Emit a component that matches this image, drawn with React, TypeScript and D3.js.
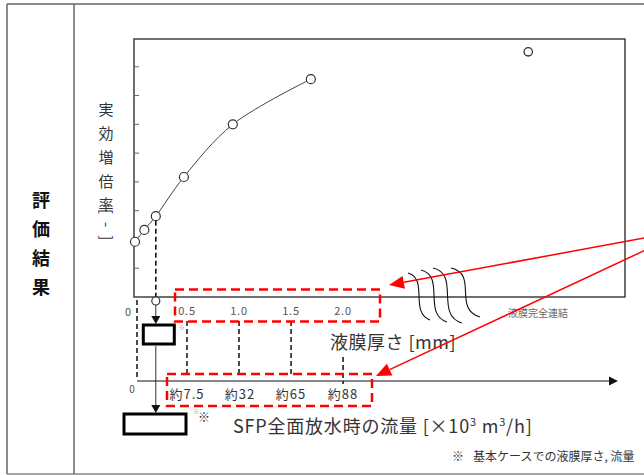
import React from "react";
import * as d3 from "d3";

// ---- data ----
const thicknessMm = [0, 0.09, 0.2, 0.47, 0.94, 1.69];
const effMultiplication = [1.92, 2.33, 2.81, 4.17, 6.0, 7.57];
const fullConnThickness = [3.78];
const fullConnValue = [8.52];
const yTickValues = [1, 2, 3, 4, 5, 6, 7, 8];
const thicknessTicks = [0.5, 1.0, 1.5, 2.0];
const thicknessTickLabels = ["0.5", "1.0", "1.5", "2.0"];
const flowLabels = ["約7.5", "約32", "約65", "約88"];
const baseCaseThickness = 0.2;
const rowTitle = ["評", "価", "結", "果"];
const yLabelChars = ["実", "効", "増", "倍", "率"];

const W = 644, H = 475;
const FONT = "'Noto Sans CJK JP', 'Noto Sans', sans-serif";

export default function App() {
  const x = d3.scaleLinear().domain([0, 4.71]).range([135, 625]);
  const y = d3.scaleLinear().domain([0, 9]).range([297, 38]);
  const pts: [number, number][] = thicknessMm.map((t, i) => [x(t), y(effMultiplication[i])]);
  const line = d3.line().curve(d3.curveCatmullRom.alpha(0.5))(pts) || "";
  const bx = x(baseCaseThickness);

  const waves = [
    [408, 273, 430, 320],
    [421, 270, 447, 322],
    [433, 268, 462, 323],
    [451, 268, 480, 317],
  ];
  const wavePath = (w: number[]) => {
    const [x0, y0, x1, y1] = w;
    const dx = x1 - x0;
    return `M${x0},${y0} C${x0 + dx * 0.95},${y0 + 6} ${x1 - dx * 0.95},${y1 - 8} ${x1},${y1}`;
  };

  const redArrow = (x0: number, y0: number, x1: number, y1: number) => {
    const a = Math.atan2(y1 - y0, x1 - x0);
    const L = 15, Wd = 6.5;
    const bxp = x1 - L * Math.cos(a), byp = y1 - L * Math.sin(a);
    const p1 = [bxp + Wd * Math.sin(a), byp - Wd * Math.cos(a)];
    const p2 = [bxp - Wd * Math.sin(a), byp + Wd * Math.cos(a)];
    return (
      <g>
        <line x1={x0} y1={y0} x2={bxp} y2={byp} stroke="#f00" strokeWidth={1.5} />
        <path d={`M${x1},${y1} L${p1[0]},${p1[1]} L${p2[0]},${p2[1]} Z`} fill="#f00" />
      </g>
    );
  };

  const downArrow = (cx: number, yTop: number, yTip: number) => (
    <g>
      <line x1={cx} y1={yTop} x2={cx} y2={yTip - 6} stroke="#333" strokeWidth={1} />
      <path d={`M${cx},${yTip} L${cx - 4.5},${yTip - 8} L${cx + 4.5},${yTip - 8} Z`} fill="#111" />
    </g>
  );

  return (
    <svg width={W} height={H} style={{ position: "absolute", left: 0, top: 0, background: "#fff" }} fontFamily={FONT}>
      {/* table lines */}
      <line x1={7} y1={4} x2={W} y2={4} stroke="#666" strokeWidth={1.5} />
      <line x1={7} y1={474} x2={W} y2={474} stroke="#888" strokeWidth={1.5} />
      <line x1={7} y1={4} x2={7} y2={474} stroke="#666" strokeWidth={1.5} />
      <line x1={74} y1={4} x2={74} y2={474} stroke="#666" strokeWidth={1.5} />
      {rowTitle.map((c, i) => (
        <text key={c} x={41} y={201 + i * 28.7} dy="0.36em" textAnchor="middle" fontSize={18} fontWeight="bold" fill="#111">{c}</text>
      ))}

      {/* y label */}
      {yLabelChars.map((c, i) => (
        <text key={c} x={106} y={110 + i * 23.7} dy="0.36em" textAnchor="middle" fontSize={15} fill="#333">{c}</text>
      ))}
      <text transform="translate(106,209) rotate(90)" dy="0.36em" fontSize={15} fill="#333" letterSpacing={8}>[-]</text>

      {/* plot frame */}
      <rect x={134} y={39} width={491} height={258} fill="none" stroke="#333" strokeWidth={1.4} />
      {yTickValues.map(t => (
        <line key={t} x1={134} x2={139} y1={y(t)} y2={y(t)} stroke="#666" strokeWidth={1} />
      ))}

      {/* curve & points */}
      <path d={line} fill="none" stroke="#444" strokeWidth={1} />
      {pts.map((p, i) => (
        <circle key={i} cx={p[0]} cy={p[1]} r={4.5} fill="#fff" stroke="#333" strokeWidth={1.2} />
      ))}
      {fullConnThickness.map((t, i) => (
        <circle key={"f" + i} cx={x(t)} cy={y(fullConnValue[i])} r={4.2} fill="#fff" stroke="#333" strokeWidth={1.3} />
      ))}
      <text x={538} y={313} dy="0.36em" textAnchor="middle" fontSize={10} fill="#666">液膜完全連結</text>

      {/* waves */}
      {waves.map((w, i) => (
        <path key={i} d={wavePath(w)} fill="none" stroke="#111" strokeWidth={1.1} />
      ))}

      {/* base case dashed drop */}
      <line x1={bx} y1={y(effMultiplication[2]) + 4.5} x2={bx} y2={297} stroke="#111" strokeWidth={1.6} strokeDasharray="5,3" />
      <circle cx={bx} cy={301} r={4} fill="#fff" stroke="#333" strokeWidth={1.2} />
      {downArrow(bx, 305, 324)}
      <rect x={bx - 12.5} y={325} width={31} height={19} fill="#fff" stroke="#000" strokeWidth={3} />
      <text x={179} y={328} dy="0.36em" fontSize={6} fill="#999">※</text>
      {downArrow(bx, 346, 413)}
      <rect x={124} y={414} width={62} height={20} fill="#fff" stroke="#000" strokeWidth={3} />
      <text x={193} y={412} dy="0.36em" fontSize={6} fill="#999">※</text>
      <text x={198} y={418} dy="0.36em" fontSize={12} fill="#333">※</text>

      {/* thickness tick labels */}
      <text x={x(0) - 7} y={312} dy="0.36em" textAnchor="middle" fontSize={11} fill="#555">0</text>
      {thicknessTicks.map((t, i) => (
        <text key={t} x={x(t)} y={311} dy="0.36em" textAnchor="middle" fontSize={11} fill="#555" letterSpacing={0.8}>{thicknessTickLabels[i]}</text>
      ))}
      <text x={330} y={343} dy="0.36em" fontSize={18} fill="#333" letterSpacing={0.5}>液膜厚さ [mm]</text>

      {/* dashed verticals */}
      <line x1={x(0) + 2} x2={x(0) + 2} y1={300} y2={380} stroke="#111" strokeWidth={1.5} strokeDasharray="5,3" />
      {thicknessTicks.map((t, i) => (
        <line key={t} x1={x(t)} x2={x(t)} y1={i === 3 ? 357 : 321} y2={i === 3 ? 384 : 375} stroke="#111" strokeWidth={1.5} strokeDasharray="5,3" />
      ))}

      {/* flow axis */}
      <line x1={x(0) + 2} x2={611} y1={381} y2={381} stroke="#111" strokeWidth={1.2} />
      <path d="M618,381 L609,376.5 L609,385.5 Z" fill="#111" />
      <text x={132} y={389} dy="0.36em" textAnchor="middle" fontSize={10} fill="#555">0</text>
      {thicknessTicks.map((t, i) => (
        <text key={t} x={x(t) + (i === 1 ? 1 : 0)} y={394} dy="0.36em" textAnchor="middle" fontSize={13} fill="#333" letterSpacing={1}>{flowLabels[i]}</text>
      ))}
      <text x={233} y={427} dy="0.36em" fontSize={18} fill="#333" letterSpacing={0.8}>
        SFP全面放水時の流量 [×10<tspan fontSize={11} dy="-7">3</tspan><tspan dy="7"> m</tspan><tspan fontSize={11} dy="-7">3</tspan><tspan dy="7">/h]</tspan>
      </text>
      <text x={452} y={457} dy="0.36em" fontSize={12} fill="#333">※<tspan dx={9}>基本ケースでの液膜厚さ, 流量</tspan></text>

      {/* red dashed boxes */}
      <rect x={175} y={289.5} width={205} height={32} fill="none" stroke="#f00" strokeWidth={2.5} strokeDasharray="9,5" />
      <rect x={167} y={374} width={205} height={32} fill="none" stroke="#f00" strokeWidth={2.5} strokeDasharray="9,5" />

      {/* red arrows */}
      {redArrow(650, 237, 389, 285)}
      {redArrow(652, 247, 376, 376)}
    </svg>
  );
}
